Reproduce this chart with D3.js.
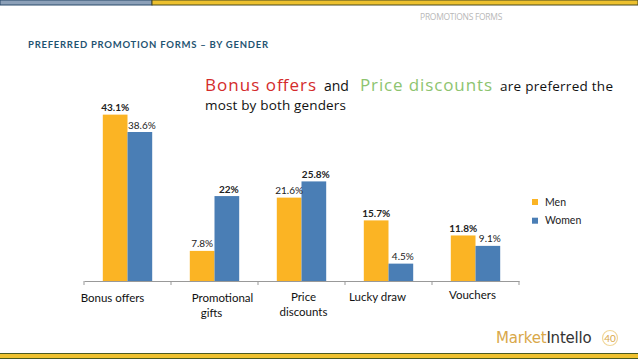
<!DOCTYPE html>
<html><head><meta charset="utf-8">
<script src="https://cdn.jsdelivr.net/npm/d3@7"></script>
<style>body{margin:0;background:#fff;}svg{display:block;}</style>
</head><body>
<script>
const categories = ["Bonus offers", "Promotional gifts", "Price discounts", "Lucky draw", "Vouchers"];
const categoryLines = [["Bonus offers"], ["Promotional", "gifts"], ["Price", "discounts"], ["Lucky draw"], ["Vouchers"]];
const seriesNames = ["Men", "Women"];
const men = [43.1, 7.8, 21.6, 15.7, 11.8];
const women = [38.6, 22, 25.8, 4.5, 9.1];
const menLabels = ["43.1%", "7.8%", "21.6%", "15.7%", "11.8%"];
const womenLabels = ["38.6%", "22%", "25.8%", "4.5%", "9.1%"];

const W = 638, H = 359;
const colors = {Men: "#FBB424", Women: "#4A7EB5"};
const font = "Lato, 'Open Sans', sans-serif";
const svg = d3.select("body").append("svg").attr("width", W).attr("height", H);

// decorative top and bottom bars
svg.append("rect").attr("x", 0).attr("y", 0).attr("width", 152).attr("height", 5).attr("fill", "#8CA0B8").attr("stroke", "#2B4A6B").attr("stroke-width", 1);
svg.append("rect").attr("x", 152).attr("y", 0).attr("width", 486).attr("height", 5).attr("fill", "#EDC12F").attr("stroke", "#4A4A20").attr("stroke-width", 1);
svg.append("rect").attr("x", -1).attr("y", 353.5).attr("width", 640).attr("height", 5).attr("fill", "#EFC12F").attr("stroke", "#4A5A20").attr("stroke-width", 1);

svg.append("text").attr("x", 502).attr("y", 20).attr("text-anchor", "end")
  .attr("font-family", "'Open Sans', sans-serif").attr("font-size", 8.5).attr("fill", "#B8B8B8").attr("letter-spacing", -0.3)
  .text("PROMOTIONS FORMS");

svg.append("text").attr("x", 28).attr("y", 47.5)
  .attr("font-family", font).attr("font-weight", "bold").attr("font-size", 9.5)
  .attr("textLength", 240).attr("lengthAdjust", "spacing")
  .attr("fill", "#1F5472").text("PREFERRED PROMOTION FORMS – BY GENDER");

// annotation
const annFont = "'Open Sans', sans-serif";
const annParts = [
  {t: "Bonus offers", x: 205, w: 111, size: 17, c: "#D42B2B"},
  {t: "and", x: 324, w: null, size: 14, c: "#111"},
  {t: "Price discounts", x: 360, w: 132, size: 17, c: "#8DC46F"},
  {t: "are preferred the", x: 500, w: 113, size: 13.5, c: "#111"}
];
annParts.forEach(p => {
  const t = svg.append("text").attr("x", p.x).attr("y", 91).attr("font-family", annFont)
    .attr("font-size", p.size).attr("fill", p.c).text(p.t);
  if (p.w) t.attr("textLength", p.w).attr("lengthAdjust", "spacing");
});
svg.append("text").attr("x", 205).attr("y", 110).attr("font-family", annFont)
  .attr("font-size", 13.5).attr("fill", "#111").attr("textLength", 141).attr("lengthAdjust", "spacing").text("most by both genders");

// chart
const x0 = d3.scaleBand().domain(categories).range([84, 519]).paddingInner(0).paddingOuter(0);
const x1 = d3.scaleBand().domain(seriesNames).range([0, 49.4]);
const inset = (x0.bandwidth() - 49.4) / 2;
const y = d3.scaleLinear().domain([0, 50]).range([281, 88]);

const rows = categories.map((c, i) => ({cat: c, vals: [
  {s: "Men", v: men[i], label: menLabels[i], bold: men[i] >= women[i]},
  {s: "Women", v: women[i], label: womenLabels[i], bold: women[i] > men[i]}
]}));

const g = svg.append("g").selectAll("g").data(rows).join("g")
  .attr("transform", d => `translate(${x0(d.cat) + inset},0)`);
g.selectAll("rect").data(d => d.vals).join("rect")
  .attr("x", d => x1(d.s)).attr("width", x1.bandwidth())
  .attr("y", d => y(d.v)).attr("height", d => y(0) - y(d.v))
  .attr("fill", d => colors[d.s]);
g.selectAll("text").data(d => d.vals).join("text")
  .attr("x", d => x1(d.s) + x1.bandwidth() / 2 + (d.s === "Women" ? 2 : 0))
  .attr("y", d => y(d.v) - 3.5)
  .attr("text-anchor", "middle").attr("font-family", font).attr("font-size", 10)
  .attr("font-weight", d => d.bold ? "bold" : "normal").attr("fill", "#222")
  .text(d => d.label);

// axis
const axis = d3.axisBottom(x0).tickSize(0).tickFormat("");
const ax = svg.append("g").attr("transform", "translate(0,281)").call(axis);
ax.select(".domain").attr("stroke", "#999").attr("stroke-width", 1);
x0.domain().concat([null]).forEach((c, i) => {
  const xx = c === null ? 519 : x0(c);
  ax.append("line").attr("x1", xx).attr("x2", xx).attr("y1", 0).attr("y2", 4).attr("stroke", "#999");
});
const labelDx = [-15, 8, 2, -11, -3];
const labelDy = [0, 0, -1, -1, -3];
categories.forEach((c, i) => {
  const t = ax.append("text").attr("x", x0(c) + x0.bandwidth() / 2 + labelDx[i]).attr("y", 21 + labelDy[i])
    .attr("text-anchor", "middle").attr("font-family", font).attr("font-size", 11.5).attr("fill", "#111");
  categoryLines[i].forEach((ln, j) => {
    t.append("tspan").attr("x", x0(c) + x0.bandwidth() / 2 + labelDx[i] + (j > 0 && i === 1 ? -11 : 0)).attr("dy", j === 0 ? 0 : 15).text(ln);
  });
});

// legend
const leg = svg.append("g").selectAll("g").data(seriesNames).join("g")
  .attr("transform", (d, i) => `translate(532,${199 + i * 18.7})`);
leg.append("rect").attr("width", 6).attr("height", 6).attr("fill", d => colors[d]);
leg.append("text").attr("x", 13).attr("y", 3).attr("dy", "0.35em").attr("font-family", font).attr("font-size", 10.5).attr("fill", "#222").text(d => d);

// logo
const logo = svg.append("text").attr("x", 496).attr("y", 343).attr("font-family", "'DejaVu Sans', sans-serif").attr("font-size", 15).attr("letter-spacing", -0.2);
logo.append("tspan").attr("fill", "#D9A84A").text("Market");
logo.append("tspan").attr("fill", "#333").text("Intello");
svg.append("circle").attr("cx", 610).attr("cy", 338).attr("r", 7.5).attr("fill", "#fff").attr("stroke", "#F1D79A").attr("stroke-width", 1.2);
svg.append("text").attr("x", 610).attr("y", 338).attr("dy", "0.35em").attr("text-anchor", "middle").attr("font-family", font).attr("font-size", 10).attr("fill", "#D9A84A").text("40");
</script>
</body></html>
